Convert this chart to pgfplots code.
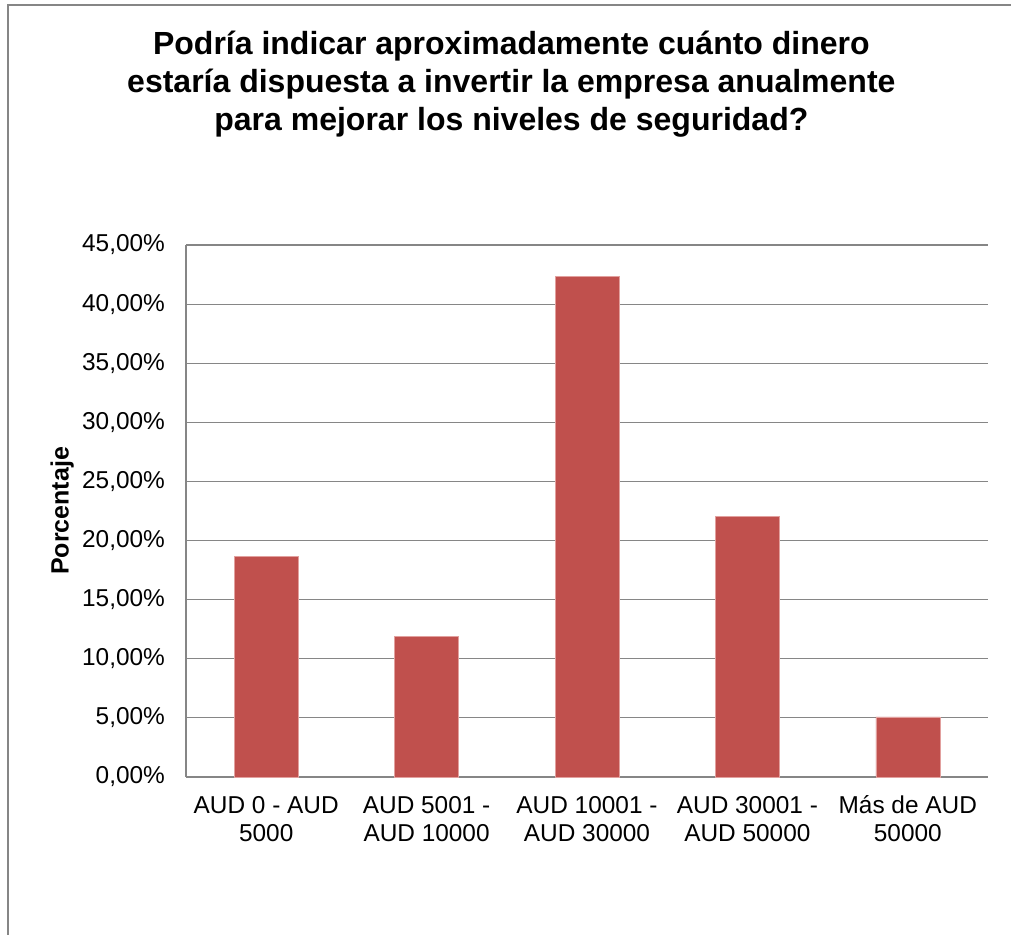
\documentclass[border=0pt]{standalone}
\usepackage{fontspec}
\setmainfont{Liberation Sans}
\usepackage{pgfplots}
\pgfplotsset{compat=1.18}
\definecolor{barred}{RGB}{192,80,77}
\definecolor{baredge}{RGB}{226,160,158}
\definecolor{gridgray}{RGB}{134,134,134}
\newcommand{\lift}{\rule{0pt}{11.5pt}}

\begin{document}
\begin{tikzpicture}
  % page = 1011 x 935 px, 1 px = 0.5pt
  \useasboundingbox (0,0) rectangle (505.5pt,-467.5pt);
  \draw[gridgray, line width=0.6pt] (4pt,-470pt) -- (4pt,-2.5pt) -- (510pt,-2.5pt);

  \node[anchor=base, inner sep=0, font=\fontsize{16}{19}\selectfont\bfseries] at (255.7pt,-27.5pt) {Podría indicar aproximadamente cuánto dinero};
  \node[anchor=base, inner sep=0, font=\fontsize{16}{19}\selectfont\bfseries] at (255.7pt,-46.5pt) {estaría dispuesta a invertir la empresa anualmente};
  \node[anchor=base, inner sep=0, font=\fontsize{16}{19}\selectfont\bfseries] at (255.7pt,-65.5pt) {para mejorar los niveles de seguridad?};

  \node[anchor=base, rotate=90, inner sep=0, font=\fontsize{12.5}{15}\selectfont\bfseries] at (34.3pt,-255.5pt) {Porcentaje};

  \begin{axis}[
    at={(93pt,-388.5pt)}, anchor=south west,
    scale only axis, width=401pt, height=266pt,
    xmin=-0.5, xmax=4.5, ymin=0, ymax=45,
    ytick={0,5,...,45},
    xtick={0,1,2,3,4},
    xticklabels={{\lift AUD 0 - AUD\\5000},{\lift AUD 5001 -\\AUD 10000},{\lift AUD 10001 -\\AUD 30000},{\lift AUD 30001 -\\AUD 50000},{\lift Más de AUD\\50000}},
    yticklabel={\pgfmathprintnumber[fixed,fixed zerofill,precision=2,use comma,assume math mode=true]{\tick}\%},
    axis x line=bottom, axis y line=left,
    axis line style={-, draw=gridgray, line width=0.6pt},
    major tick length=0pt,
    ymajorgrids, grid style={draw=gridgray, line width=0.6pt},
    yticklabel style={font=\fontsize{12.2}{14.2}\selectfont, anchor=east, xshift=-7pt},
    xticklabel style={font=\fontsize{12.2}{14.2}\selectfont, align=center, anchor=north, yshift=-3.2pt},
    ybar, bar width=32pt,
  ]
  \addplot[fill=barred, draw=baredge, line width=0.3pt] coordinates {(0,18.64) (1,11.86) (2,42.37) (3,22.03) (4,5.08)};
  \end{axis}
\end{tikzpicture}
\end{document}
